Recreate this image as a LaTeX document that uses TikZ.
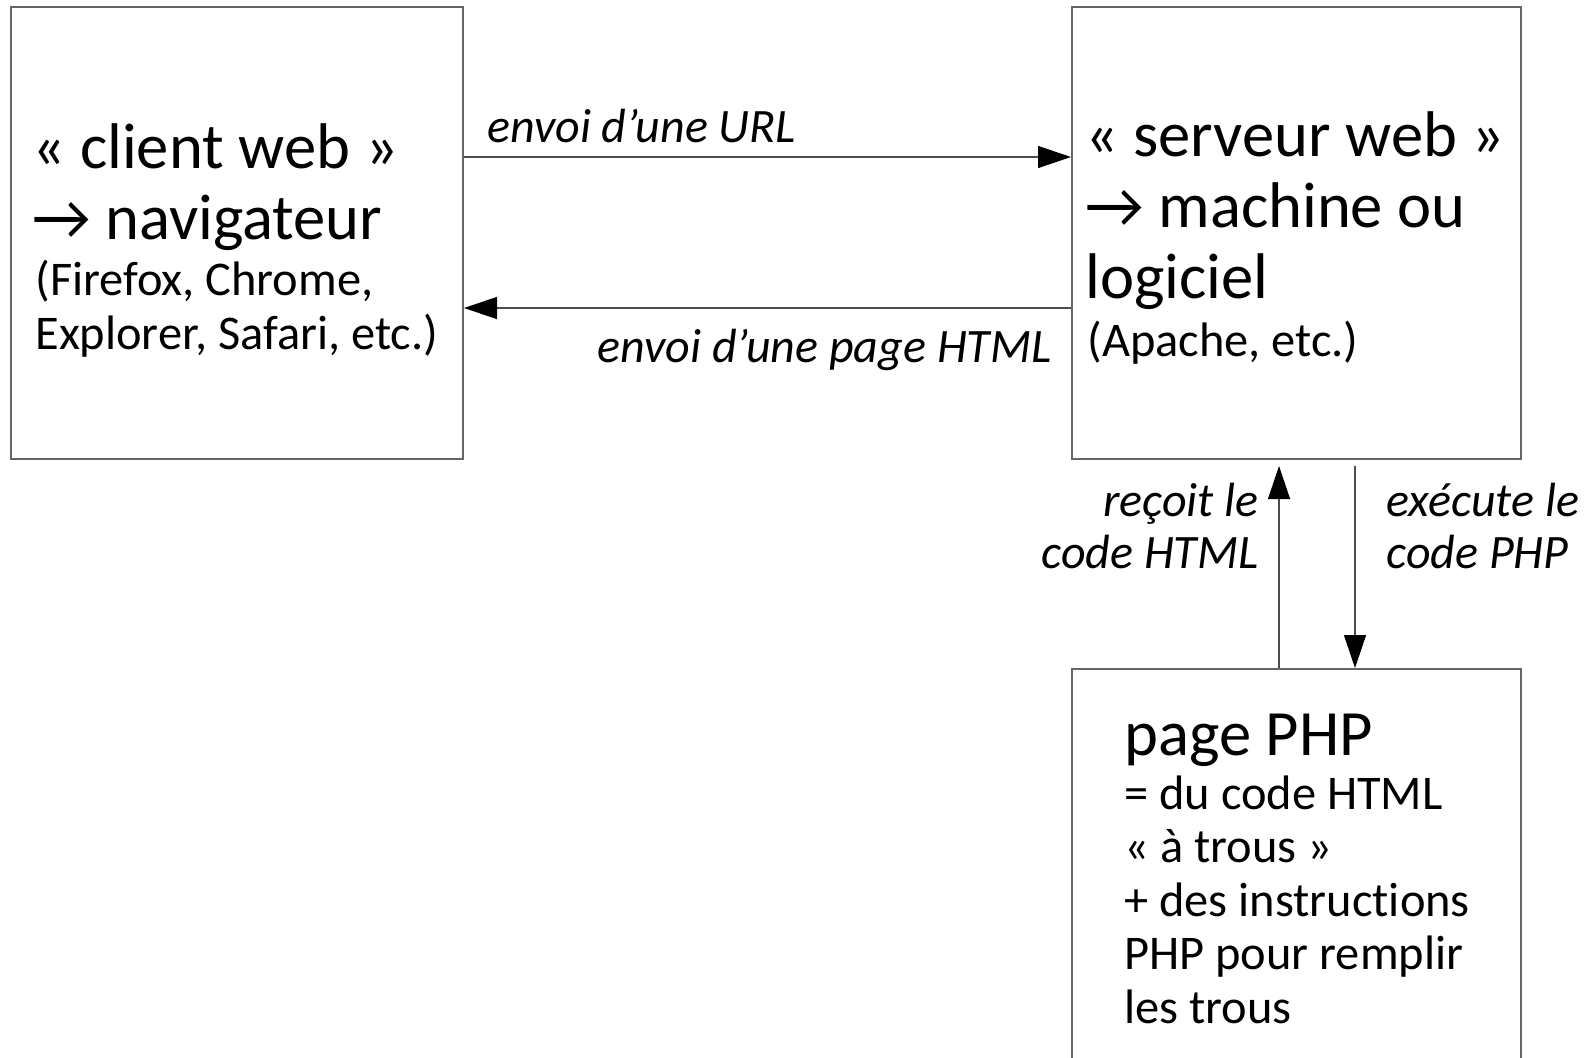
\documentclass[tikz,border=0pt]{standalone}
\usepackage{fontspec}
\setmainfont{Carlito}[Ligatures=NoCommon]
\usetikzlibrary{arrows.meta}

\begin{document}
\begin{tikzpicture}[x=0.5pt,y=-0.5pt,
	box/.style={draw=black!60, line width=1pt, inner sep=0pt},
	link/.style={draw=black!70, line width=0.6pt, -{Triangle[length=16.5pt,width=11pt,color=black]}},
	big/.style={font=\fontsize{32.3}{35.5}\selectfont, align=left, inner sep=0pt, anchor=base west},
	small/.style={font=\fontsize{24.2}{26.7}\selectfont, align=left, inner sep=0pt, anchor=base west},
	lbl/.style={font=\fontsize{24}{26}\selectfont\itshape, inner sep=0pt}]

\useasboundingbox (0,0) rectangle (1593,1057);
\clip (0,0) rectangle (1593,1057);

% boxes
\node[box, minimum width=226pt, minimum height=226pt] (client) at (237,233) {};
\node[box, minimum width=224.5pt, minimum height=226pt] (server) at (1296.5,233) {};
\node[box, minimum width=224.5pt, minimum height=215.5pt] (php) at (1296.5,884.5) {};

% texts (anchored on the last line)
\node[big] (clientname) at (32,239) {« client web »\\→ navigateur};
\node[small] (clientex) at (35,349) {(Firefox, Chrome,\\Explorer, Safari, etc.)};
\node[big] (servername) at (1085,298) {« serveur web »\\→ machine ou\\logiciel};
\node[small] (serverex) at (1087,356) {(Apache, etc.)};
\node[big] (phpname) at (1124,755) {page PHP};
\node[small] (phpex) at (1124,1023) {= du code HTML\\« à trous »\\+ des instructions\\PHP pour remplir\\les trous};

% links
\coordinate (urly) at (0,157);
\coordinate (pagey) at (0,308);
\coordinate (upx) at (1279,0);
\coordinate (downx) at (1355,0);

\draw[link] (client.east |- urly) -- (server.west |- urly);
\draw[link] (server.west |- pagey) -- (client.east |- pagey);
\draw[link, shorten >=3pt] (php.north -| upx) -- (server.south -| upx);
\draw[link, shorten <=3pt] (server.south -| downx) -- (php.north -| downx);

\node[lbl, anchor=base west] (urllbl) at (487,142) {envoi d’une URL};
\node[lbl, anchor=base east] (pagelbl) at (1052,362) {envoi d’une page HTML};
\node[lbl, anchor=base east, align=right] (recoitlbl) at (1259,568) {reçoit le\\code HTML};
\node[lbl, anchor=base west, align=left] (execlbl) at (1386,568) {exécute le\\code PHP};

\end{tikzpicture}
\end{document}
